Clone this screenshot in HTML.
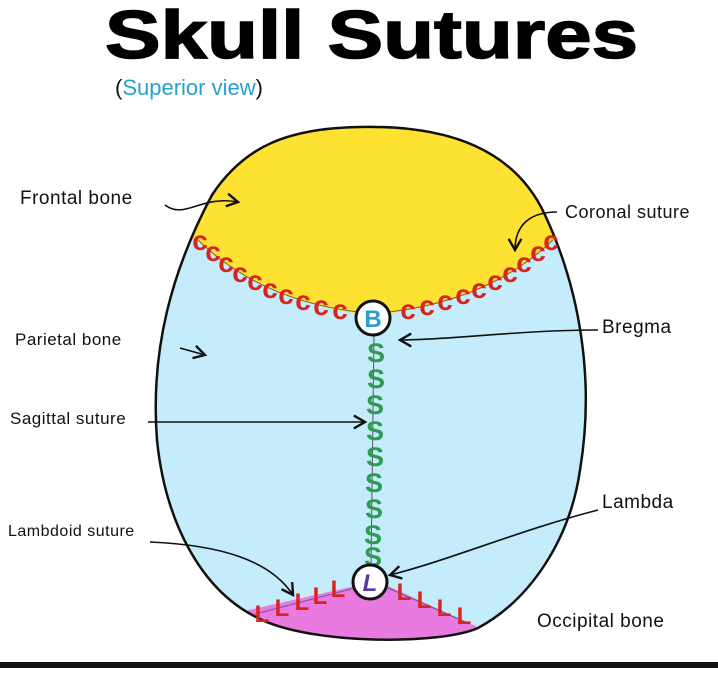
<!DOCTYPE html>
<html><head><meta charset="utf-8"><style>
html,body{margin:0;padding:0;background:#fff;}
svg{display:block;font-family:"Liberation Sans",sans-serif;}
.lb{font-size:19px;fill:#111;letter-spacing:0.5px;}
.c{font-size:28px;font-weight:bold;fill:#d8231e;text-anchor:middle;}
.s{font-size:27px;font-weight:bold;fill:#2e9a52;text-anchor:middle;}
.l{font-size:24px;font-weight:bold;fill:#d8231e;text-anchor:middle;}
</style></head><body>
<svg width="718" height="673" viewBox="0 0 718 673" xmlns="http://www.w3.org/2000/svg">
<defs>
<clipPath id="sk"><path id="skp" d="M 360 127 C 450 125 515 150 545 215 C 580 290 595 380 580 470 C 570 540 530 600 478 628 C 440 645 310 645 258 618 C 200 590 165 520 157 440 C 150 350 172 270 212 195 C 245 145 290 128 360 127 Z"/></clipPath>
<marker id="ah" markerWidth="10" markerHeight="10" refX="8" refY="5" orient="auto"><path d="M1 1 L8 5 L1 9" fill="none" stroke="#111" stroke-width="1.5"/></marker>
</defs>
<text x="105" y="58" font-size="68" font-weight="bold" fill="#000" stroke="#000" stroke-width="1.5" textLength="533" lengthAdjust="spacingAndGlyphs">Skull Sutures</text>
<text x="115" y="95" font-size="22" fill="#2a9fd0"><tspan fill="#111">(</tspan>Superior view<tspan fill="#111">)</tspan></text>

<g clip-path="url(#sk)">
<rect x="0" y="0" width="718" height="673" fill="#c4ecfa"/>
<path d="M 100 100 L 100 240 L 198 240 Q 260 300 373 316 Q 490 300 553 240 L 650 240 L 650 100 Z" fill="#fde232"/>
<path d="M 240 612 L 355 586 Q 372 600 388 586 L 480 628 L 480 660 L 240 660 Z" fill="#e87ae0"/>
</g>
<use href="#skp" fill="none" stroke="#111" stroke-width="2.5"/>
<path d="M198 240 Q 260 300 358 312 M389 312 Q 490 300 553 240" fill="none" stroke="#8a5a20" stroke-width="1"/>
<g class="c">
<text x="200" y="250">c</text><text x="213" y="261">c</text><text x="226" y="272">c</text><text x="240" y="282">c</text><text x="255" y="290">c</text><text x="270" y="298">c</text><text x="286" y="304">c</text><text x="303" y="310">c</text><text x="321" y="315">c</text><text x="340" y="319">c</text>
<text x="408" y="319">c</text><text x="427" y="315">c</text><text x="445" y="310">c</text><text x="463" y="304">c</text><text x="479" y="298">c</text><text x="495" y="290">c</text><text x="510" y="282">c</text><text x="524" y="272">c</text><text x="538" y="261">c</text><text x="551" y="250">c</text>
</g>
<line x1="374" y1="335" x2="371" y2="566" stroke="#555" stroke-width="1"/>
<g class="s">
<text x="376" y="362">S</text><text x="376" y="388">S</text><text x="375" y="414">S</text><text x="375" y="440">S</text><text x="375" y="466">S</text><text x="374" y="492">S</text><text x="374" y="518">S</text><text x="373" y="544">S</text><text x="373" y="566">S</text>
</g>
<path d="M255 614 L355 588 M388 588 L470 624" stroke="#6a5aa0" stroke-width="1" fill="none"/>
<g class="l">
<text x="262" y="622">L</text><text x="282" y="616">L</text><text x="302" y="610">L</text><text x="320" y="604">L</text><text x="338" y="597">L</text>
<text x="404" y="600">L</text><text x="424" y="608">L</text><text x="444" y="616">L</text><text x="464" y="624">L</text>
</g>
<circle cx="373" cy="318" r="17" fill="#fff" stroke="#111" stroke-width="3"/>
<text x="373" y="327" font-size="24" font-weight="bold" fill="#2a9fd0" text-anchor="middle">B</text>
<circle cx="370" cy="582" r="17" fill="#fff" stroke="#111" stroke-width="3"/>
<text x="370" y="591" font-size="24" font-weight="bold" font-style="italic" fill="#5a3aa0" text-anchor="middle">L</text>

<g fill="none" stroke="#111" stroke-width="1.6" marker-end="url(#ah)">
<path d="M165 205 C 185 220 200 195 238 202"/>
<path d="M557 212 C 530 212 515 225 515 250"/>
<path d="M180 348 L205 355"/>
<path d="M598 330 C 520 330 450 340 400 340"/>
<path d="M148 422 L365 422"/>
<path d="M598 510 C 520 530 450 560 390 575"/>
<path d="M150 542 C 220 545 270 560 293 595"/>
</g>
<g class="lb">
<text x="20" y="204">Frontal bone</text>
<text x="565" y="218" font-size="18">Coronal suture</text>
<text x="15" y="345" font-size="17">Parietal bone</text>
<text x="602" y="333">Bregma</text>
<text x="10" y="424" font-size="17">Sagittal suture</text>
<text x="602" y="508">Lambda</text>
<text x="8" y="536" font-size="16">Lambdoid suture</text>
<text x="537" y="627">Occipital bone</text>
</g>
<rect x="0" y="662" width="718" height="6" fill="#111"/>
</svg>
</body></html>
